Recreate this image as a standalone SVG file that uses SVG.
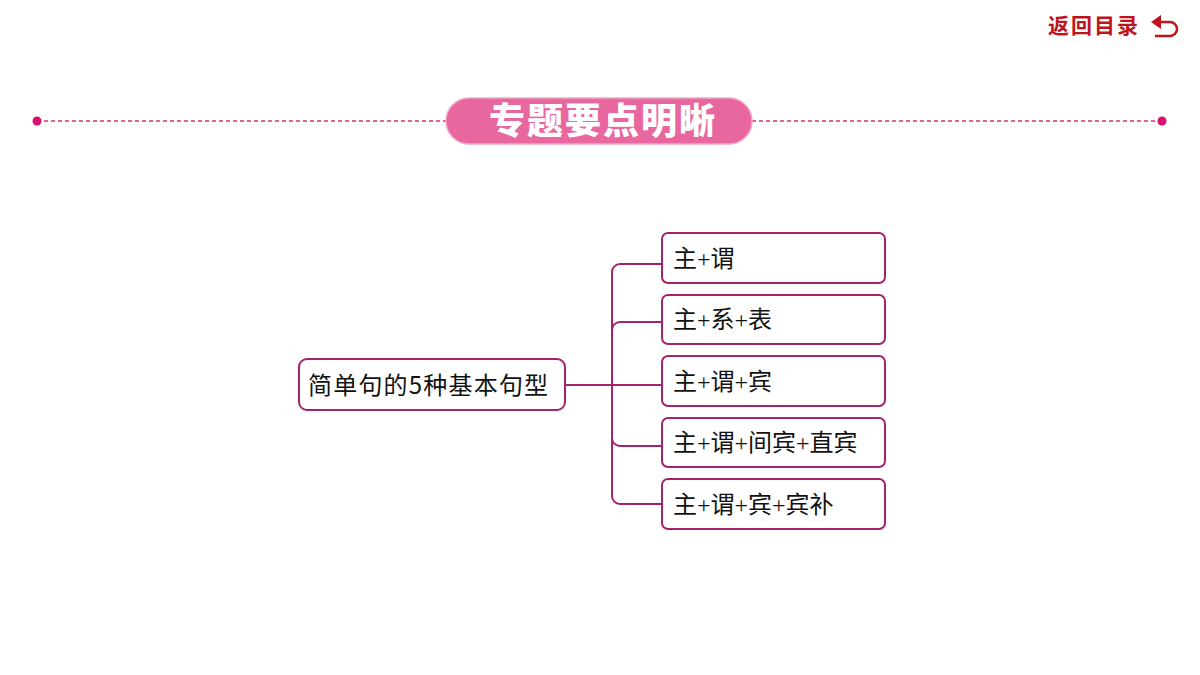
<svg xmlns="http://www.w3.org/2000/svg" width="1200" height="675" viewBox="0 0 1200 675">
<style>
.box{fill:#fff;stroke:#a3246a;stroke-width:2}
.t{font-family:"Liberation Serif","Noto Sans CJK SC",serif;font-size:24px;fill:#111}
.c{fill:none;stroke:#a3246a;stroke-width:2}
</style>
<rect width="1200" height="675" fill="#fff"/>
<g id="back">
<text x="1048" y="33" font-family="Noto Sans CJK SC,sans-serif" font-size="21" font-weight="bold" letter-spacing="2" fill="#c0141c">返回目录</text>
<path d="M1158 22 H1170 A7 7 0 0 1 1170 36 H1155" fill="none" stroke="#c0141c" stroke-width="2.5"/>
<polygon points="1151,22 1161,15 1161,29" fill="#c0141c"/>
</g>
<g id="header">
<line x1="37" y1="121" x2="446" y2="121" stroke="#d6337a" stroke-width="1.5" stroke-dasharray="4,3"/>
<line x1="752" y1="121" x2="1162" y2="121" stroke="#d6337a" stroke-width="1.5" stroke-dasharray="4,3"/>
<circle cx="37" cy="121" r="4.5" fill="#d6116e"/>
<circle cx="1162" cy="121" r="4.5" fill="#d6116e"/>
<rect x="446" y="98" width="306" height="46" rx="23" fill="#e8679f" stroke="#f3a6c6" stroke-width="1.5"/>
<text x="603" y="134" text-anchor="middle" font-family="Noto Sans CJK SC,sans-serif" font-size="36" font-weight="900" letter-spacing="2" fill="#fff">专题要点明晰</text>
</g>
<g id="connectors">
<line class="c" x1="565" y1="385" x2="662" y2="385"/>
<path class="c" d="M662 264 H620 A8 8 0 0 0 612 272 V496 A8 8 0 0 0 620 504 H662"/>
<path class="c" d="M662 322 H620 A8 8 0 0 0 612 330"/>
<path class="c" d="M662 446 H620 A8 8 0 0 1 612 438"/>
</g>
<g id="root"><rect class="box" x="299" y="359" width="266" height="51" rx="8"/>
<text x="308" y="394" font-family="Noto Sans CJK SC,sans-serif" font-size="24" letter-spacing="1.2" fill="#111">简单句的5种基本句型</text></g>
<g id="n1"><rect class="box" x="662" y="233" width="223" height="50" rx="6"/><text class="t" x="673" y="267">主+谓</text></g>
<g id="n2"><rect class="box" x="662" y="295" width="223" height="49" rx="6"/><text class="t" x="673" y="328">主+系+表</text></g>
<g id="n3"><rect class="box" x="662" y="356" width="223" height="50" rx="6"/><text class="t" x="673" y="390">主+谓+宾</text></g>
<g id="n4"><rect class="box" x="662" y="418" width="223" height="49" rx="6"/><text class="t" x="673" y="451">主+谓+间宾+直宾</text></g>
<g id="n5"><rect class="box" x="662" y="479" width="223" height="50" rx="6"/><text class="t" x="673" y="513">主+谓+宾+宾补</text></g>
</svg>
